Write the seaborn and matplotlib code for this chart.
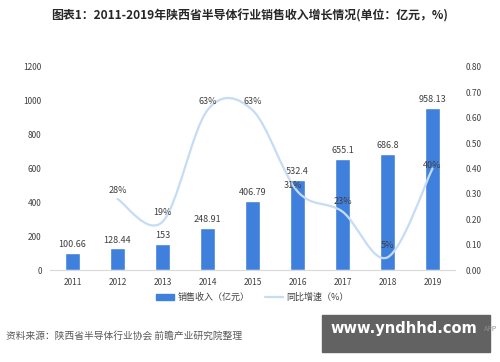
import matplotlib
matplotlib.use("Agg")
import matplotlib.pyplot as plt
from matplotlib.path import Path
from matplotlib.patches import PathPatch, Rectangle
from matplotlib.lines import Line2D
import seaborn as sns
import pandas as pd

years = ["2011", "2012", "2013", "2014", "2015", "2016", "2017", "2018", "2019"]
revenue = [100.66, 128.44, 153, 248.91, 406.79, 532.4, 655.1, 686.8, 958.13]
rev_labels = ["100.66", "128.44", "153", "248.91", "406.79", "532.4", "655.1", "686.8", "958.13"]
growth_years = ["2012", "2013", "2014", "2015", "2016", "2017", "2018", "2019"]
growth = [0.28, 0.19, 0.63, 0.63, 0.31, 0.23, 0.05, 0.40]
growth_labels = ["28%", "19%", "63%", "63%", "31%", "23%", "5%", "40%"]

title = "图表1：2011-2019年陕西省半导体行业销售收入增长情况(单位：亿元，%)"
source = "资料来源：陕西省半导体行业协会 前瞻产业研究院整理"

bar_color = "#3f80dc"
line_color = "#c5dcf4"
text_color = "#404040"

sns.set_style("white")
plt.rcParams["font.family"] = ["Noto Sans CJK SC", "DejaVu Sans"]

fig = plt.figure(figsize=(5, 3.62), dpi=100)
ax = fig.add_axes([0.1, 0.254, 0.81, 0.561])

df = pd.DataFrame({"year": years, "revenue": revenue})
sns.barplot(data=df, x="year", y="revenue", color=bar_color, width=0.34,
            saturation=1, ax=ax)
ax.set_ylim(0, 1200)
ax.set_yticks(range(0, 1201, 200))
ax.set_xlim(-0.5, 8.5)
ax.set_xlabel("")
ax.set_ylabel("")
for s in ["top", "right", "left"]:
    ax.spines[s].set_visible(False)
ax.spines["bottom"].set_color("#d9d9d9")
ax.tick_params(axis="both", length=0, labelsize=6, colors=text_color, pad=6)

for i, (v, lab) in enumerate(zip(revenue, rev_labels)):
    ax.text(i, v + 22, lab, ha="center", va="bottom", fontsize=6.5, color=text_color)

# secondary axis for growth
ax2 = ax.twinx()
ax2.set_ylim(0, 0.8)
ax2.set_yticks([i / 10 for i in range(9)])
ax2.set_yticklabels([f"{i / 10:.2f}" for i in range(9)])
for s in ax2.spines.values():
    s.set_visible(False)
ax2.tick_params(axis="y", length=0, labelsize=6, colors=text_color, pad=8)

# smoothed line (Excel-style bezier through the points)
xs = [years.index(y) for y in growth_years]
pts = list(zip(xs, growth))
verts = [pts[0]]
codes = [Path.MOVETO]
n = len(pts)
for i in range(n - 1):
    p0 = pts[i - 1] if i > 0 else pts[i]
    p1 = pts[i]
    p2 = pts[i + 1]
    p3 = pts[i + 2] if i + 2 < n else pts[i + 1]
    c1 = (p1[0] + (p2[0] - p0[0]) / 6, p1[1] + (p2[1] - p0[1]) / 6)
    c2 = (p2[0] - (p3[0] - p1[0]) / 6, p2[1] - (p3[1] - p1[1]) / 6)
    verts += [c1, c2, p2]
    codes += [Path.CURVE4] * 3
ax2.add_patch(PathPatch(Path(verts, codes), facecolor="none", edgecolor=line_color,
                        lw=1.6, capstyle="round"))

offsets = {"2012": (0, 0.035), "2013": (0, 0.035), "2014": (0, 0.035), "2015": (0, 0.035),
           "2016": (-0.1, 0.025), "2017": (0, 0.04), "2018": (0, 0.045), "2019": (0, 0.01)}
for y, g, lab in zip(growth_years, growth, growth_labels):
    dx, dy = offsets[y]
    ax2.text(years.index(y) + dx, g + dy, lab, ha="center", va="center",
             fontsize=6.5, color=text_color)

fig.text(0.5, 0.955, title, ha="center", va="center", fontsize=8.6,
         fontweight="bold", color="#262626")

handles = [Rectangle((0, 0), 1, 1, color=bar_color),
           Line2D([0], [0], color=line_color, lw=1.6)]
fig.legend(handles, ["销售收入（亿元）", "同比增速（%）"], loc="center",
           bbox_to_anchor=(0.505, 0.178), ncol=2, frameon=False, fontsize=6.5,
           handlelength=2.0, handleheight=0.6, columnspacing=1.8, handletextpad=0.3,
           labelcolor=text_color)

fig.text(0.012, 0.073, source, ha="left", va="center", fontsize=7, color="#595959")

# site stamp in the lower right corner
fig.patches.append(Rectangle((0.644, 0.028), 0.336, 0.102, transform=fig.transFigure,
                             color="#626262", zorder=5))
fig.text(0.808, 0.092, "www.yndhhd.com", ha="center", va="center", fontsize=10.5,
         fontweight="bold", color="white", family="DejaVu Sans", zorder=6)
fig.text(0.995, 0.092, "APP", ha="right", va="center", fontsize=5, color="#8c8c8c",
         zorder=6)

fig.savefig("out.png", dpi=100)
